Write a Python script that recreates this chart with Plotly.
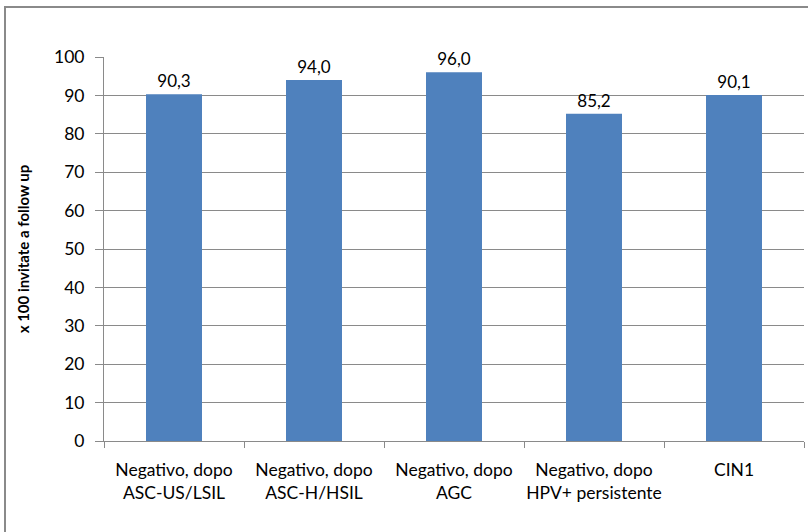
import plotly.graph_objects as go

# Percentuale di donne invitate che hanno aderito al follow up
categorie = [
    "Negativo, dopo<br>ASC-US/LSIL",
    "Negativo, dopo<br>ASC-H/HSIL",
    "Negativo, dopo<br>AGC",
    "Negativo, dopo<br>HPV+ persistente",
    "CIN1",
]
valori = [90.3, 94.0, 96.0, 85.2, 90.1]
y_ticks = [0, 10, 20, 30, 40, 50, 60, 70, 80, 90, 100]

W, H = 808, 532
L, R, T, B = 104, 4, 57, 91
GRIGIO = "#8a8a8a"
FONT = "Lato"

fig = go.Figure(
    go.Bar(
        x=categorie,
        y=valori,
        marker=dict(color="#4f81bd", line=dict(width=0)),
        texttemplate="%{y:.1f}",
        textposition="outside",
        cliponaxis=False,
        textfont=dict(family=FONT, size=17, color="#000000"),
        hoverinfo="skip",
    )
)

pw, ph = W - L - R, H - T - B
# cornice esterna del grafico (i lati destro e inferiore escono dal riquadro)
fig.add_shape(
    type="rect", xref="paper", yref="paper",
    x0=(5 - L) / pw, x1=(W + 6 - L) / pw,
    y0=-(H + 6 - T - ph) / ph, y1=(ph + T - 7) / ph,
    line=dict(color=GRIGIO, width=2), fillcolor="rgba(0,0,0,0)", layer="below",
)

fig.update_layout(
    width=W, height=H,
    margin=dict(l=L, r=R, t=T, b=B, pad=0, autoexpand=False),
    paper_bgcolor="white", plot_bgcolor="white",
    separators=",.",
    bargap=0.6,
    showlegend=False,
    font=dict(family=FONT, size=17, color="#000000"),
    xaxis=dict(
        type="category",
        tickson="boundaries",
        tickangle=0,
        automargin=False,
        ticks="outside", ticklen=6, tickcolor=GRIGIO, tickwidth=1,
        ticklabelstandoff=13,
        showline=True, linecolor=GRIGIO, linewidth=1,
        showgrid=False,
        tickfont=dict(family=FONT, size=17.5),
    ),
    yaxis=dict(
        range=[0, 100],
        tickvals=y_ticks,
        automargin=False,
        ticks="outside", ticklen=8, tickcolor=GRIGIO, tickwidth=1,
        ticklabelstandoff=7,
        showline=True, linecolor=GRIGIO, linewidth=1,
        showgrid=True, gridcolor=GRIGIO, gridwidth=1,
        zeroline=False,
        tickfont=dict(family=FONT, size=17.5),
        title=dict(
            text="<b>x 100 invitate a follow up</b>",
            font=dict(family=FONT, size=15),
            standoff=20,
        ),
    ),
)

fig.write_html("out.html")
